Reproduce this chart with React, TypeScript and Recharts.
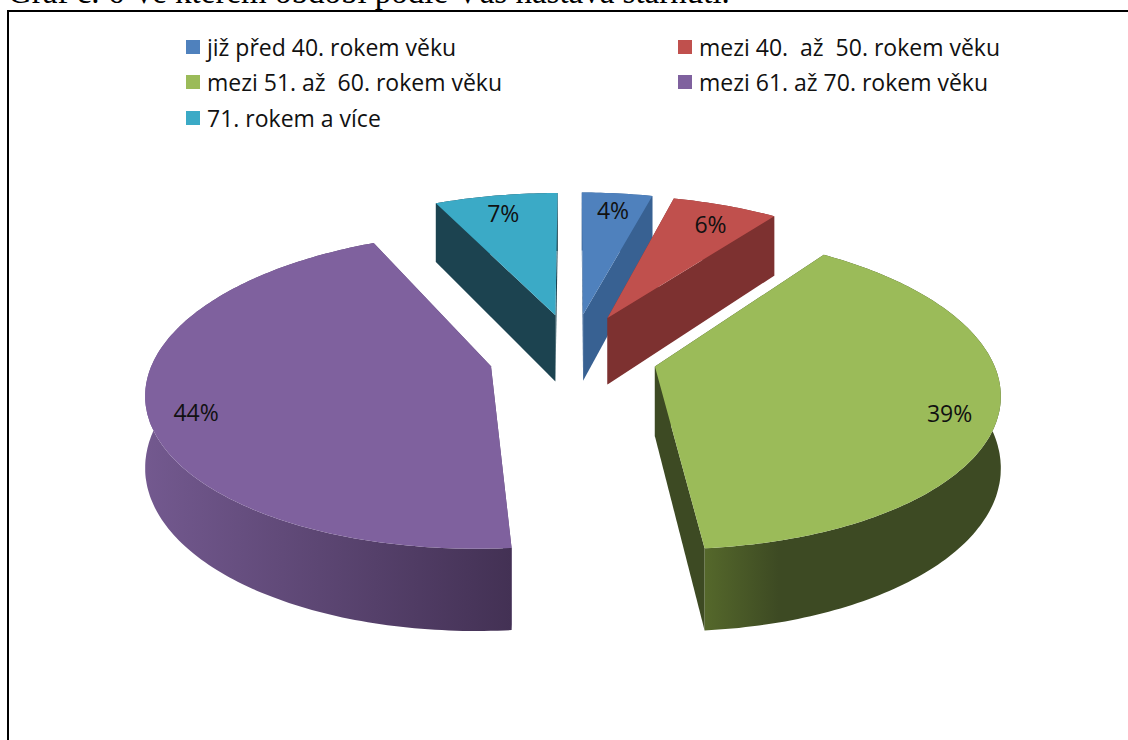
import { PieChart, Pie, Legend } from "recharts";

const categories = [
  "již před 40. rokem věku",
  "mezi 40.  až  50. rokem věku",
  "mezi 51. až  60. rokem věku",
  "mezi 61. až 70. rokem věku",
  "71. rokem a více",
];
const shares = [4, 6, 38.6, 44.4, 7];
const topColors = ["#4f81bd", "#c0504d", "#9bbb59", "#7f619e", "#3baac6"];
const cutColors = ["#386192", "#7d3130", "#3d4a23", "#5f4a78", "#1c4350"];
const wallFrom = ["#386192", "#7d3130", "#55682b", "#73598f", "#1c4350"];
const wallTo = ["#386192", "#7d3130", "#3d4a23", "#433154", "#1c4350"];

const caption = "Graf č. 6 Ve kterém období podle Vás nastává stárnutí.";

const chartData = categories.map((name, i) => ({
  name,
  value: shares[i],
  fill: topColors[i],
}));

// perspective of the tilted pie
const PERSPECTIVE = 0.15;
const PLANE_HEIGHT = 1010;
const THICKNESS = 69;
const EXPLODE_X = 0.25;
const EXPLODE_Z = 0.28;
const RAD = Math.PI / 180;

// X, Z are in pie radii on the table plane, lift is px below the top face
const project = (cx: number, cy: number, r: number, X: number, Z: number, lift = 0) => {
  const d = 1 + PERSPECTIVE * Z;
  return [cx + (r * X) / d, cy + PLANE_HEIGHT * (1 / d - 1) + lift / d];
};

const toPath = (pts: number[][]) =>
  "M" + pts.map((p) => `${p[0].toFixed(1)},${p[1].toFixed(1)}`).join("L") + "Z";

const SliceShape = (props: any) => {
  const { cx, cy, outerRadius, startAngle, endAngle, index, fill } = props;
  const mid = ((startAngle + endAngle) / 2) * RAD;
  const ox = EXPLODE_X * Math.cos(mid);
  const oz = EXPLODE_Z * Math.sin(mid);
  const steps = Math.max(4, Math.ceil(Math.abs(endAngle - startAngle)));
  const rim = (lift: number) => {
    const out: number[][] = [];
    for (let s = 0; s <= steps; s++) {
      const a = (startAngle + ((endAngle - startAngle) * s) / steps) * RAD;
      out.push(project(cx, cy, outerRadius, ox + Math.cos(a), oz + Math.sin(a), lift));
    }
    return out;
  };
  const apexTop = project(cx, cy, outerRadius, ox, oz);
  const apexBottom = project(cx, cy, outerRadius, ox, oz, THICKNESS);
  const top = rim(0);
  const bottom = rim(THICKNESS);
  const gradId = `wall-${index}`;
  return (
    <g>
      <defs>
        <linearGradient id={gradId} x1="0" y1="0" x2="1" y2="0">
          <stop offset="0" stopColor={wallFrom[index]} />
          <stop offset={index === 2 ? 0.25 : 1} stopColor={wallTo[index]} />
        </linearGradient>
      </defs>
      <path d={toPath([apexTop, top[0], bottom[0], apexBottom])} fill={cutColors[index]} />
      <path
        d={toPath([apexTop, top[steps], bottom[steps], apexBottom])}
        fill={cutColors[index]}
      />
      <path d={toPath([...top, ...bottom.slice().reverse()])} fill={`url(#${gradId})`} />
      <path d={toPath([apexTop, ...top])} fill={fill} />
    </g>
  );
};

const SliceLabel = (props: any) => {
  const { cx, cy, outerRadius, midAngle, value } = props;
  const a = midAngle * RAD;
  const fx = EXPLODE_X + 0.86;
  const fz = EXPLODE_Z + 0.86;
  const [x, y] = project(cx, cy, outerRadius, fx * Math.cos(a), fz * Math.sin(a));
  // side labels sit a little lower than the plain projection
  return (
    <text
      x={x}
      y={y + 10 * Math.abs(Math.cos(a))}
      textAnchor="middle"
      dominantBaseline="central"
      fontFamily="Open Sans"
      fontSize={23}
      fill="#111"
    >
      {`${Math.round(value)}%`}
    </text>
  );
};

const LegendBlock = ({ payload }: any) => (
  <div
    style={{
      display: "grid",
      gridTemplateColumns: "492px 420px",
      gridAutoRows: "35.5px",
      fontFamily: "Open Sans",
      fontSize: 23,
      color: "#111",
    }}
  >
    {(payload || []).map((item: any) => (
      <div key={item.value} style={{ display: "flex", alignItems: "center", whiteSpace: "pre" }}>
        <span
          style={{
            width: 14,
            height: 14,
            marginRight: 7,
            background: item.color || item.payload?.fill,
          }}
        />
        {item.value}
      </div>
    ))}
  </div>
);

export default function App() {
  return (
    <div
      style={{
        position: "fixed",
        left: 0,
        top: 0,
        width: 1128,
        height: 740,
        overflow: "hidden",
        background: "#fff",
      }}
    >
      <div
        style={{
          position: "absolute",
          left: 8,
          top: -28,
          fontFamily: "Liberation Serif",
          fontSize: 33,
          lineHeight: "40px",
          whiteSpace: "nowrap",
          color: "#000",
        }}
      >
        {caption}
      </div>
      <div style={{ position: "absolute", left: 7, top: 10, right: 0, height: 2, background: "#000" }} />
      <div style={{ position: "absolute", left: 7, top: 10, bottom: 0, width: 2, background: "#000" }} />
      <div style={{ position: "absolute", left: 0, top: 0 }}>
        <PieChart width={1128} height={740}>
          <Pie
            data={chartData}
            dataKey="value"
            nameKey="name"
            cx={568}
            cy={350}
            outerRadius={336}
            startAngle={90}
            endAngle={-270}
            stroke="none"
            isAnimationActive={false}
            shape={SliceShape}
            label={SliceLabel}
            labelLine={false}
          />
          <Legend
            content={LegendBlock}
            itemSorter={null}
            wrapperStyle={{ position: "absolute", left: 186, top: 29, width: 920 }}
          />
        </PieChart>
      </div>
    </div>
  );
}
